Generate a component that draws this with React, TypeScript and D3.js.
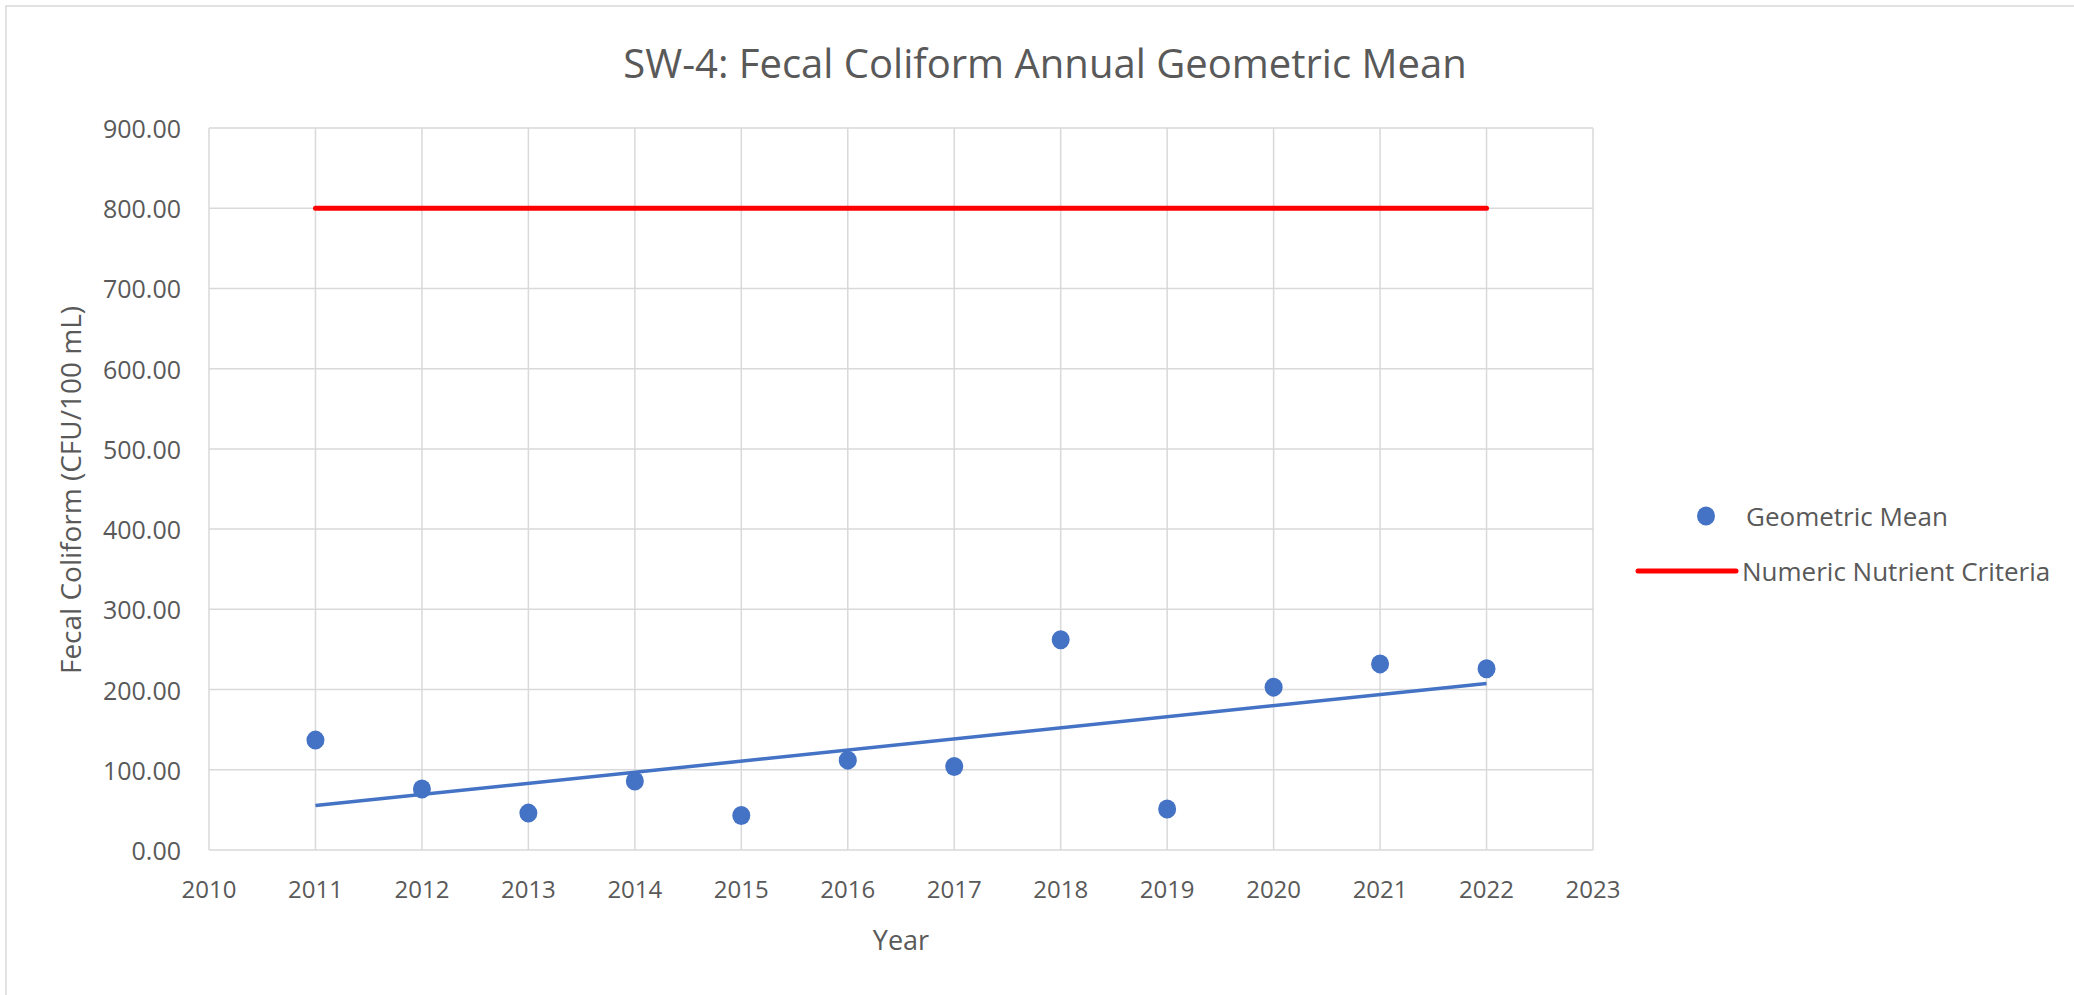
import React from 'react';
import * as d3 from 'd3';

const years = [2011, 2012, 2013, 2014, 2015, 2016, 2017, 2018, 2019, 2020, 2021, 2022];
const geoMean = [137, 76, 46, 86, 43, 112, 104, 262, 51, 203, 232, 226];
const criteria = [800, 800];
const criteriaYears = [2011, 2022];
const xTicks = [2010, 2011, 2012, 2013, 2014, 2015, 2016, 2017, 2018, 2019, 2020, 2021, 2022, 2023];
const yTicks = [0, 100, 200, 300, 400, 500, 600, 700, 800, 900];

const W = 2074;
const H = 995;
const margin = { left: 209, right: 2074 - 1593, top: 128, bottom: 995 - 850 };
const font = '"Open Sans", "Noto Sans", sans-serif';
const textColor = '#595959';
const blue = '#4472C4';

const App: React.FC = () => {
    const x = d3.scaleLinear().domain([2010, 2023]).range([margin.left, W - margin.right]);
    const y = d3.scaleLinear().domain([0, 900]).range([H - margin.bottom, margin.top]);

    // linear trendline (least squares), like Excel's
    const mx = d3.mean(years) as number;
    const my = d3.mean(geoMean) as number;
    const sxy = d3.sum(years, (v, i) => (v - mx) * (geoMean[i] - my));
    const sxx = d3.sum(years, v => (v - mx) * (v - mx));
    const slope = sxy / sxx;
    const icpt = my - slope * mx;
    const trendPts: [number, number][] = [years[0], years[years.length - 1]].map(v => [v, icpt + slope * v]);

    const line = d3.line<[number, number]>().x(d => x(d[0])).y(d => y(d[1]));

    return (
        <div style={{ position: 'fixed', left: 0, top: 0, width: W, height: H, background: '#fff' }}>
            <svg width={W} height={H} style={{ display: 'block' }}>
                <rect x={6} y={6} width={W + 20} height={H + 20} fill="#fff" stroke="#d9d9d9" strokeWidth={1.5} />
                <text x={1045} y={62} textAnchor="middle" dominantBaseline="central" fontFamily={font} fontSize={40} fill={textColor}>
                    SW-4: Fecal Coliform Annual Geometric Mean
                </text>
                {/* gridlines */}
                {yTicks.map(t => (
                    <line key={'gy' + t} x1={x(2010)} x2={x(2023)} y1={y(t)} y2={y(t)} stroke="#d9d9d9" strokeWidth={1.5} />
                ))}
                {xTicks.map(t => (
                    <line key={'gx' + t} x1={x(t)} x2={x(t)} y1={y(0)} y2={y(900)} stroke="#d9d9d9" strokeWidth={1.5} />
                ))}
                {/* tick labels */}
                {yTicks.map(t => (
                    <text key={'ty' + t} x={x(2010) - 28} y={y(t)} textAnchor="end" dominantBaseline="central" fontFamily={font} fontSize={25} fill={textColor}>
                        {d3.format('.2f')(t)}
                    </text>
                ))}
                {xTicks.map(t => (
                    <text key={'tx' + t} x={x(t)} y={888} textAnchor="middle" dominantBaseline="central" fontFamily={font} fontSize={24} fill={textColor}>
                        {t}
                    </text>
                ))}
                <text x={901} y={939} textAnchor="middle" dominantBaseline="central" fontFamily={font} fontSize={27} fill={textColor}>Year</text>
                <text transform={`translate(70,${490}) rotate(-90)`} textAnchor="middle" dominantBaseline="central" fontFamily={font} fontSize={28} fill={textColor}>
                    Fecal Coliform (CFU/100 mL)
                </text>
                {/* criteria line */}
                <path d={line(criteriaYears.map((v, i) => [v, criteria[i]] as [number, number])) || ''} stroke="#FF0000" strokeWidth={5} fill="none" strokeLinecap="round" />
                {/* trendline */}
                <path d={line(trendPts) || ''} stroke={blue} strokeWidth={3.5} fill="none" />
                {/* points */}
                {years.map((v, i) => (
                    <ellipse key={'p' + v} cx={x(v)} cy={y(geoMean[i])} rx={9} ry={9.5} fill={blue} />
                ))}
                {/* legend */}
                <ellipse cx={1706} cy={516} rx={9} ry={9.5} fill={blue} />
                <text x={1746} y={516} dominantBaseline="central" fontFamily={font} fontSize={26} fill={textColor}>Geometric Mean</text>
                <line x1={1638} x2={1736} y1={571} y2={571} stroke="#FF0000" strokeWidth={5} strokeLinecap="round" />
                <text x={1742} y={571} dominantBaseline="central" fontFamily={font} fontSize={26} fill={textColor}>Numeric Nutrient Criteria</text>
            </svg>
        </div>
    );
};

export default App;
